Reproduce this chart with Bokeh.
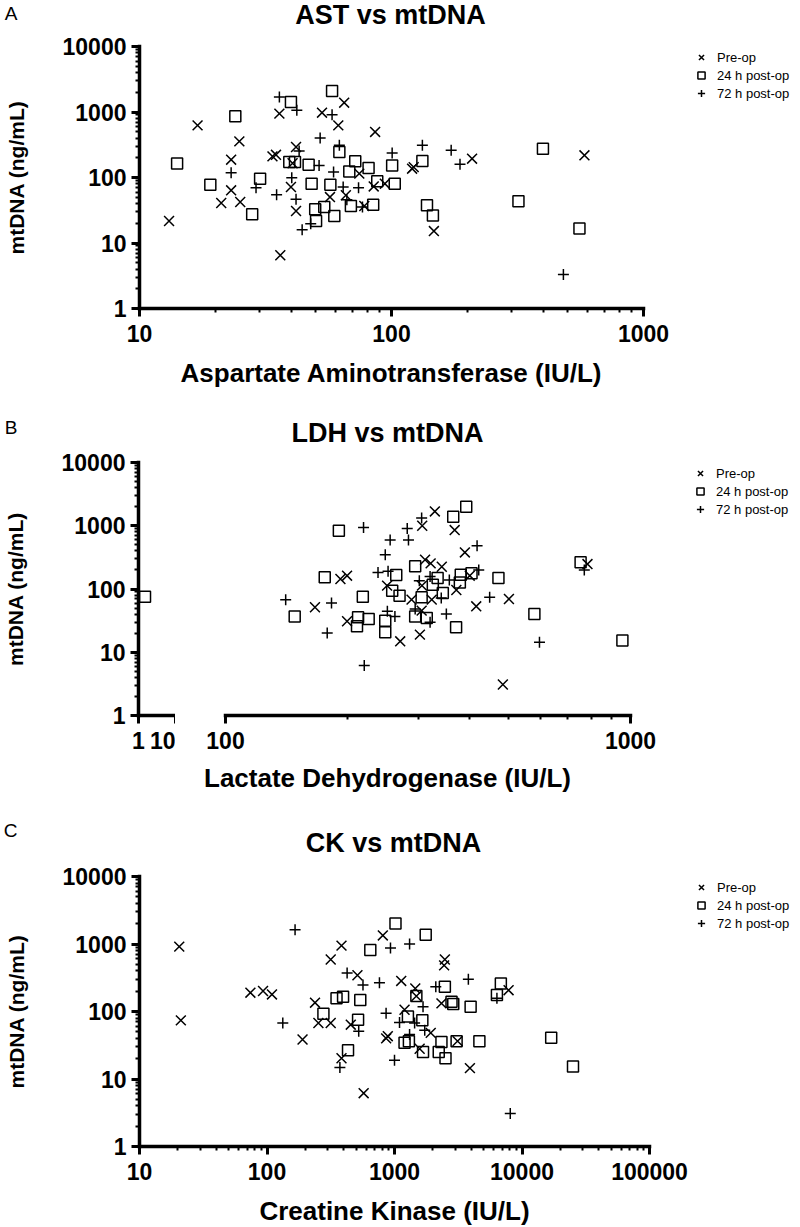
from bokeh.plotting import figure
from bokeh.models import Range1d, FixedTicker, NumeralTickFormatter, Legend, LegendItem, Label
from bokeh.layouts import column, row
from bokeh.embed import file_html
from bokeh.resources import INLINE

FONT = "Liberation Sans"

# ---------------- data ----------------
series_names = ["Pre-op", "24 h post-op", "72 h post-op"]
y_ticks = [1, 10, 100, 1000, 10000]

# Panel A: AST (IU/L) vs mtDNA (ng/mL)
ast_pre_x = [13.1, 17.0, 24.9, 23.1, 23.1, 21.1, 25.1, 35.9, 36.2, 33.7, 34.8, 41.8, 39.9, 41.8, 53.0,
             64.9, 61.5, 86.1, 57.0, 65.9, 74.5, 85.0, 78.0, 94.1, 120.7, 122.5, 208.8, 147.3, 583.0, 40.5]
ast_pre_y = [21.7, 625, 356, 187, 63.7, 40.8, 42.3, 944, 6.5, 210, 222, 292, 71.6, 30.8, 977,
             1387, 625, 496, 50.3, 53.5, 114.6, 73, 36.7, 80.5, 136.5, 144, 194, 15.2, 218, 165]
ast_24_x = [14.1, 24.0, 19.1, 30.1, 28.0, 39.9, 58.1, 39.3, 41.4, 46.9, 48.2, 57.2, 62.1, 71.8, 68.0, 81.1,
            87.8, 49.8, 54.1, 50.2, 59.3, 69.0, 84.6, 100.6, 103, 132.6, 138.3, 146, 319, 399, 557]
ast_24_y = [163, 859, 77.8, 95.9, 27.4, 1422, 2094, 172, 172, 157, 80.5, 77.8, 245, 177, 124, 140,
            87.3, 32.7, 35.5, 21.7, 25.8, 36.7, 38.5, 153, 80.5, 179, 37.6, 26.4, 43.3, 275, 16.6]
ast_72_x = [35.9, 42.1, 58.1, 52.1, 62.1, 43.0, 51.6, 23.1, 29.0, 35.0, 40.2, 41.8, 44.2, 47.8, 58.9, 64.3,
            74.0, 66.5, 76.7, 100.6, 132.6, 172.5, 187, 481]
ast_72_y = [1694, 1060, 910, 401, 310, 254, 153, 118.6, 70.0, 54.7, 99, 46.4, 16.0, 19.7, 121, 71.6,
            70.0, 45.9, 35.5, 237, 310, 260, 159, 3.29]

# Panel B: LDH (IU/L) vs mtDNA
ldh_pre_x = [192.2, 199.6, 166.3, 199.6, 328.8, 306, 368, 390, 311, 321, 342, 250.6, 305.5, 288, 323, 371.5,
             401, 416, 501, 305, 270, 302, 484, 783]
ldh_pre_y = [143.9, 162.5, 51.4, 30.9, 1684, 1000, 855, 379, 290, 254, 225, 113, 113, 67.9, 67.9, 96.4,
             162.5, 53.2, 69.5, 45.5, 14.9, 19.0, 3.09, 248]
ldh_24_x = [1.5, 190.5, 175.8, 148.2, 218.3, 212.5, 211.2, 225.7, 393, 365, 294, 264, 334, 381, 405, 379,
            325, 258, 269, 305, 344, 472, 294, 314, 248, 248, 371, 579, 753, 955]
ldh_24_y = [75.7, 834, 152.8, 36.6, 75.7, 35.7, 25.7, 33.6, 1995, 1387, 228, 166, 149, 168, 177, 127,
            117, 94.1, 78.5, 73.9, 86.5, 149, 36.6, 34.8, 31.6, 20.7, 24.8, 40.3, 264, 15.3]
ldh_72_x = [219.2, 140.8, 182.7, 178.3, 220.1, 305, 281, 255, 283, 248, 238, 252, 301, 320, 357, 418,
            422, 341, 449, 251, 262, 294, 320, 351, 596, 769]
ldh_72_y = [942, 67.9, 60.1, 20.2, 6.15, 1321, 907, 594, 594, 349, 183, 190, 135, 157, 139, 483,
            200, 72.1, 73.9, 44.4, 36.6, 48.3, 29.8, 40.3, 14.4, 200]

# Panel C: CK (IU/L) vs mtDNA
ck_pre_x = [20.5, 21.1, 74.1, 93.1, 109.4, 238, 253, 316, 190, 316, 384, 512, 384, 573, 454, 810, 886, 860,
            2483, 2450, 1129, 1455, 2335, 7850, 1199, 1924, 1575, 3123, 3904, 1484]
ck_pre_y = [914, 73.9, 190, 201, 179, 135, 67.5, 67.5, 38.5, 590, 946, 344, 20.3, 6.17, 63.8, 1340, 43.1, 40,
            590, 482, 284, 219, 132, 207, 106, 48.2, 28.1, 36.4, 14.5, 169]
ck_24_x = [646, 351, 395, 539, 277, 518, 432, 1018, 1757, 2483, 2800, 2890, 3954, 6825, 6358, 1484, 1274,
           1653, 1199, 1297, 1674, 2335, 2223, 2512, 3070, 4632, 16943, 25120]
ck_24_y = [817, 157, 166, 148, 92.4, 75.5, 26.6, 2006, 1370, 232, 140, 129, 118, 260, 175, 169, 84.5,
           73.9, 34.4, 36.4, 25.1, 35.2, 25.1, 20.3, 36.4, 36.4, 40.7, 15.3]
ck_72_x = [166, 425, 566, 762, 133, 524, 373, 930, 1313, 2108, 3796, 1674, 859, 1095, 1438, 1726, 1313,
           1000, 6358, 8091]
ck_72_y = [1622, 372, 246, 266, 67.5, 51.0, 14.8, 874, 1000, 232, 301, 118, 94.6, 69, 67.5, 52.7, 45.6,
           19.0, 157, 3.07]

TICK_PX = "23px"
XLAB_PX = "26px"
YLAB_PX = "21px"
TITLE_PX = "27px"
LEG_PX = "13px"
LETTER_PX = "19px"


def minor_for(lo_exp, hi_exp):
    return [k * 10 ** e for e in range(lo_exp, hi_exp) for k in range(2, 10)]


def style_axes(p):
    p.outline_line_color = None
    p.xgrid.visible = False
    p.ygrid.visible = False
    for ax in p.axis:
        ax.axis_line_width = 3.5
        ax.axis_line_color = "black"
        ax.axis_line_cap = "square"
        ax.major_tick_line_width = 3
        ax.major_tick_out = 8
        ax.major_tick_in = 0
        ax.minor_tick_line_width = 2
        ax.minor_tick_out = 4
        ax.minor_tick_in = 0
        ax.major_label_text_font = FONT
        ax.major_label_text_font_style = "bold"
        ax.major_label_text_font_size = TICK_PX
        ax.major_label_text_color = "black"
        ax.axis_label_text_font = FONT
        ax.axis_label_text_font_style = "bold"
        ax.axis_label_text_color = "black"
        ax.formatter = NumeralTickFormatter(format="0")
    p.yaxis.ticker = FixedTicker(ticks=y_ticks, minor_ticks=minor_for(0, 4))
    p.yaxis.major_label_standoff = 5
    p.yaxis.axis_label_standoff = 32
    p.yaxis.axis_label_text_font_size = YLAB_PX
    p.xaxis.major_label_standoff = 8
    p.xaxis.axis_label_standoff = 13
    p.xaxis.axis_label_text_font_size = XLAB_PX


def add_series(p, xs, ys):
    r1 = p.scatter(xs[0], ys[0], marker="x", size=14, line_color="black", line_width=1.5)
    r2 = p.scatter(xs[1], ys[1], marker="square", size=11, line_color="black", fill_color=None, line_width=1.5)
    r3 = p.scatter(xs[2], ys[2], marker="cross", size=11, line_color="black", line_width=1.5)
    return [r1, r2, r3]


def add_legend(p, rends, lx, fh):
    leg = Legend(items=[LegendItem(label=n, renderers=[r]) for n, r in zip(series_names, rends)],
                 location=(lx, fh - 2 - 54), orientation="vertical", border_line_color=None,
                 background_fill_alpha=0, padding=0, margin=0, spacing=0,
                 glyph_width=20, glyph_height=18, label_height=18, label_standoff=6,
                 label_text_font=FONT, label_text_font_size=LEG_PX, label_text_color="black")
    p.add_layout(leg, "right")


def text_strip(h, items, letter=None, letter_y=None):
    """Blank strip whose plotting frame spans page x 136..800 (data x == page x).
    The panel letter is carried by the strip's own left axis (one tick label)."""
    s = figure(frame_width=664, frame_height=h, x_range=Range1d(136, 800), y_range=Range1d(h, 0),
               min_border_left=136, min_border_right=0, min_border_top=0, min_border_bottom=0,
               x_axis_location=None, y_axis_location="left" if letter else None,
               toolbar_location=None, output_backend="svg")
    s.outline_line_color = None
    s.grid.visible = False
    if letter:
        ax = s.yaxis[0]
        ax.ticker = FixedTicker(ticks=[letter_y], minor_ticks=[])
        ax.major_label_overrides = {letter_y: letter}
        ax.axis_line_color = None
        ax.major_tick_line_color = None
        ax.minor_tick_line_color = None
        ax.major_tick_out = 0
        ax.major_tick_in = 0
        ax.major_label_standoff = 122
        ax.major_label_text_font = FONT
        ax.major_label_text_font_size = LETTER_PX
        ax.major_label_text_font_style = "normal"
        ax.major_label_text_color = "black"
    for x, y, text, size, style in items:
        s.add_layout(Label(x=x, y=y, text=text, text_font=FONT, text_font_size=size,
                           text_font_style=style, text_align="center", text_baseline="middle",
                           text_color="black"))
    return s


def mk(xr, fw, fh, bl, br, bt, bb):
    return figure(x_axis_type="log", y_axis_type="log", x_range=xr, y_range=Range1d(1, 10000),
                  frame_width=fw, frame_height=fh, min_border_left=bl, min_border_right=br,
                  min_border_top=bt, min_border_bottom=bb, toolbar_location=None,
                  output_backend="svg")


def split(xs, ys, keep):
    return [x for x in xs if keep(x)], [y for x, y in zip(xs, ys) if keep(x)]


# ---------------- Panel A ----------------
headA = text_strip(30, [(387, 14, "AST vs mtDNA", TITLE_PX, "bold")], "A", 13)
fhA = 262
pA = mk(Range1d(10, 1000), 504, fhA, 136, 160, 16, 92)
rA = add_series(pA, [ast_pre_x, ast_24_x, ast_72_x], [ast_pre_y, ast_24_y, ast_72_y])
style_axes(pA)
pA.xaxis.ticker = FixedTicker(ticks=[10, 100, 1000], minor_ticks=minor_for(1, 3))
pA.xaxis.axis_label = "Aspartate Aminotransferase (IU/L)"
pA.yaxis.axis_label = "mtDNA (ng/mL)"
add_legend(pA, rA, 48, fhA)

# ---------------- Panel B (broken x axis: 1-10 and 100-1000) ----------------
headB = text_strip(48, [(384, 32, "LDH vs mtDNA", TITLE_PX, "bold")], "B", 27)
fhB = 253
yrB = Range1d(1, 10000)
pB1 = figure(x_axis_type="log", y_axis_type="log", x_range=Range1d(1, 10), y_range=yrB,
             frame_width=37, frame_height=fhB, min_border_left=136, min_border_right=0,
             min_border_top=14, min_border_bottom=45, toolbar_location=None, output_backend="svg")
pB2 = figure(x_axis_type="log", y_axis_type="log", x_range=Range1d(100, 1000), y_range=yrB,
             frame_width=405, frame_height=fhB, min_border_left=50, min_border_right=172,
             min_border_top=14, min_border_bottom=45, toolbar_location=None, output_backend="svg")
lo = lambda x: x < 10
hi = lambda x: x >= 100
b1 = [split(ldh_pre_x, ldh_pre_y, lo), split(ldh_24_x, ldh_24_y, lo), split(ldh_72_x, ldh_72_y, lo)]
b2 = [split(ldh_pre_x, ldh_pre_y, hi), split(ldh_24_x, ldh_24_y, hi), split(ldh_72_x, ldh_72_y, hi)]
add_series(pB1, [s[0] for s in b1], [s[1] for s in b1])
rB2 = add_series(pB2, [s[0] for s in b2], [s[1] for s in b2])
style_axes(pB1)
style_axes(pB2)
pB1.xaxis.ticker = FixedTicker(ticks=[1, 10], minor_ticks=[])
pB2.xaxis.ticker = FixedTicker(ticks=[100, 1000], minor_ticks=minor_for(2, 3))
pB2.yaxis.visible = False
pB1.yaxis.axis_label = "mtDNA (ng/mL)"
add_legend(pB2, rB2, 60, fhB)
footB = text_strip(35, [(384, 17, "Lactate Dehydrogenase (IU/L)", XLAB_PX, "bold")])

# ---------------- Panel C ----------------
headC = text_strip(67, [(390, 47, "CK vs mtDNA", TITLE_PX, "bold")], "C", 35)
fhC = 270
pC = mk(Range1d(10, 100000), 510, fhC, 136, 154, 14, 77)
rC = add_series(pC, [ck_pre_x, ck_24_x, ck_72_x], [ck_pre_y, ck_24_y, ck_72_y])
style_axes(pC)
pC.xaxis.ticker = FixedTicker(ticks=[10, 100, 1000, 10000, 100000], minor_ticks=minor_for(1, 5))
pC.xaxis.axis_label = "Creatine Kinase (IU/L)"
pC.yaxis.axis_label = "mtDNA (ng/mL)"
add_legend(pC, rC, 42, fhC)

layout = column(headA, pA, headB, row(pB1, pB2), footB, headC, pC)
open("out.html", "w").write(file_html(layout, INLINE))
